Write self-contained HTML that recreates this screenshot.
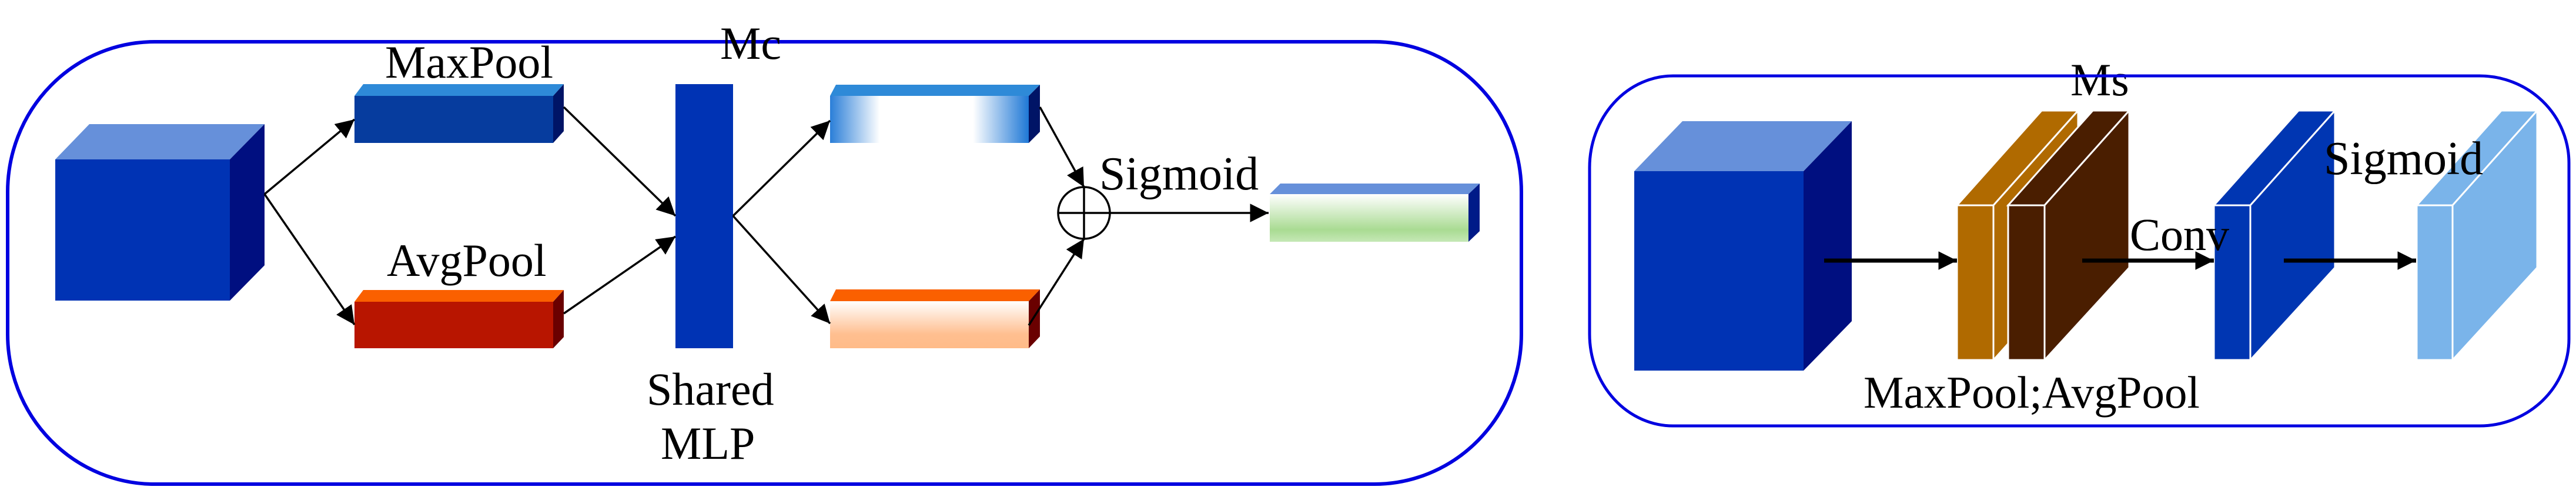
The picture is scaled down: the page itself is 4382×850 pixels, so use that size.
<!DOCTYPE html>
<html><head><meta charset="utf-8"><style>
html,body{margin:0;padding:0;background:#fff;}
svg{display:block;}
</style></head><body>
<svg width="4382" height="850" viewBox="0 0 4382 850" xmlns="http://www.w3.org/2000/svg">
<defs>
<linearGradient id="gblue" x1="0" y1="0" x2="1" y2="0">
<stop offset="0" stop-color="#2a7ed8"/><stop offset="0.25" stop-color="#ffffff"/><stop offset="0.72" stop-color="#ffffff"/><stop offset="1" stop-color="#1f78d6"/>
</linearGradient>
<linearGradient id="gorange" x1="0" y1="0" x2="0" y2="1">
<stop offset="0" stop-color="#ffffff"/><stop offset="0.7" stop-color="#ffbf90"/><stop offset="1" stop-color="#ffbb88"/>
</linearGradient>
<linearGradient id="ggreen" x1="0" y1="0" x2="0" y2="1">
<stop offset="0" stop-color="#ffffff"/><stop offset="0.75" stop-color="#a9db92"/><stop offset="1" stop-color="#c5e8b6"/>
</linearGradient>
<marker id="ah" viewBox="0 0 10 10" refX="10" refY="5" markerWidth="9" markerHeight="9" markerUnits="strokeWidth" orient="auto">
<path d="M0,0 L10,5 L0,10 z" fill="#000"/></marker>
<marker id="ah2" viewBox="0 0 10 10" refX="10" refY="5" markerWidth="4.5" markerHeight="4.5" markerUnits="strokeWidth" orient="auto">
<path d="M0,0 L10,5 L0,10 z" fill="#000"/></marker>
</defs>

<path d="M263,71 L2338,71 A250,255 0 0 1 2588,326 L2588,568 A250,255 0 0 1 2338,823 L263,823 A250,255 0 0 1 13,568 L13,326 A250,255 0 0 1 263,71 Z" fill="none" stroke="#0000e0" stroke-width="6"/>

<rect x="94" y="271" width="297" height="240" fill="#0033b4"/>
<polygon points="94,271 152,211 450,211 391,271" fill="#6690da"/>
<polygon points="391,271 450,211 450,451 391,511" fill="#000f80"/>

<rect x="603" y="163" width="338" height="80" fill="#063c9e"/>
<polygon points="603,163 618,143 959,143 941,163" fill="#2e8ad8"/>
<polygon points="941,163 959,143 959,223 941,243" fill="#001466"/>

<rect x="603" y="513" width="338" height="79" fill="#b81500"/>
<polygon points="603,513 618,493 959,493 941,513" fill="#fa6000"/>
<polygon points="941,513 959,493 959,573 941,592" fill="#6a0000"/>

<rect x="1149" y="143" width="98" height="449" fill="#0033b4"/>

<rect x="1412" y="163" width="338" height="80" fill="url(#gblue)"/>
<polygon points="1412,163 1422,144 1769,144 1750,163" fill="#2e8ad8"/>
<polygon points="1750,163 1769,144 1769,224 1750,243" fill="#001466"/>

<rect x="1412" y="512" width="338" height="80" fill="url(#gorange)"/>
<polygon points="1412,512 1422,492 1769,492 1750,512" fill="#fa6000"/>
<polygon points="1750,512 1769,492 1769,572 1750,592" fill="#6a0000"/>

<rect x="2160" y="330" width="338" height="81" fill="url(#ggreen)"/>
<polygon points="2160,330 2178,312 2517,312 2498,330" fill="#6690da"/>
<polygon points="2498,330 2517,312 2517,393 2498,411" fill="#001a88"/>

<g stroke="#000" stroke-width="3.5" fill="none">
<line x1="450" y1="330" x2="603" y2="203" marker-end="url(#ah)"/>
<line x1="450" y1="330" x2="603" y2="552" marker-end="url(#ah)"/>
<line x1="959" y1="182" x2="1149" y2="367" marker-end="url(#ah)"/>
<line x1="959" y1="533" x2="1149" y2="402" marker-end="url(#ah)"/>
<line x1="1247" y1="367" x2="1412" y2="205" marker-end="url(#ah)"/>
<line x1="1247" y1="367" x2="1412" y2="550" marker-end="url(#ah)"/>
<line x1="1769" y1="182" x2="1844" y2="318" marker-end="url(#ah)"/>
<line x1="1750" y1="553" x2="1844" y2="406" marker-end="url(#ah)"/>
<circle cx="1844" cy="362" r="44"/>
<line x1="1800" y1="362" x2="1888" y2="362"/>
<line x1="1844" y1="318" x2="1844" y2="406"/>
<line x1="1888" y1="362" x2="2158" y2="362" marker-end="url(#ah)"/>
</g>

<g font-family="'Liberation Serif','Times New Roman',serif" fill="#000">
<text x="1225" y="100" font-size="78">Mc</text>
<text x="655" y="132" font-size="78">MaxPool</text>
<text x="658" y="469" font-size="78">AvgPool</text>
<text x="1870" y="322" font-size="80">Sigmoid</text>
<text x="1100" y="688" font-size="78">Shared</text>
<text x="1124" y="780" font-size="78">MLP</text>
<text x="3522" y="162" font-size="78">Ms</text>
<text x="3623" y="425" font-size="78">Conv</text>
<text x="3953" y="296" font-size="80">Sigmoid</text>
<text x="3170" y="693" font-size="77">MaxPool;AvgPool</text>
</g>

<path d="M2846,129 L4218,129 A152,148 0 0 1 4370,277 L4370,576 A152,148 0 0 1 4218,724 L2846,724 A142,156 0 0 1 2704,568 L2704,285 A142,156 0 0 1 2846,129 Z" fill="none" stroke="#0000e0" stroke-width="5"/>

<rect x="2780" y="291" width="288" height="339" fill="#0033b4"/>
<polygon points="2780,291 2862,206 3150,206 3068,291" fill="#6690da"/>
<polygon points="3068,291 3150,206 3150,546 3068,630" fill="#000f80"/>

<g stroke="#fff" stroke-width="3">
<polygon points="3329,349 3473,188 3535,188 3391,349" fill="#b06a00"/>
<polygon points="3391,349 3535,188 3535,452 3391,612" fill="#b06a00"/>
<rect x="3329" y="349" width="62" height="263" fill="#b06a00"/>
<polygon points="3416,349 3560,188 3622,188 3478,349" fill="#4a1e00"/>
<polygon points="3478,349 3622,188 3622,455 3478,612" fill="#4a1e00"/>
<rect x="3416" y="349" width="62" height="263" fill="#4a1e00"/>
<polygon points="3766,349 3910,188 3972,188 3828,349" fill="#0036b2"/>
<polygon points="3828,349 3972,188 3972,455 3828,612" fill="#0036b2"/>
<rect x="3766" y="349" width="62" height="263" fill="#0036b2"/>
<polygon points="4111,349 4255,188 4316,188 4172,349" fill="#7ab4ea"/>
<polygon points="4172,349 4316,188 4316,455 4172,612" fill="#7ab4ea"/>
<rect x="4111" y="349" width="61" height="263" fill="#7ab4ea"/>
</g>

<g stroke="#000" stroke-width="7" fill="none">
<line x1="3103" y1="443" x2="3329" y2="443" marker-end="url(#ah2)"/>
<line x1="3542" y1="443" x2="3766" y2="443" marker-end="url(#ah2)"/>
<line x1="3885" y1="443" x2="4110" y2="443" marker-end="url(#ah2)"/>
</g>

<g font-family="'Liberation Serif','Times New Roman',serif" fill="#000">
<text x="3623" y="425" font-size="78">Conv</text>
<text x="3953" y="296" font-size="80">Sigmoid</text>
</g>
</svg>
</body></html>
